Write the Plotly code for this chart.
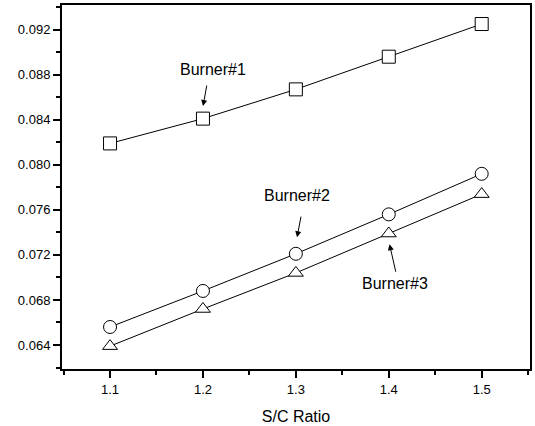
import plotly.graph_objects as go

sc_ratio = [1.1, 1.2, 1.3, 1.4, 1.5]
burner1 = [0.0819, 0.0841, 0.0867, 0.0896, 0.0925]
burner2 = [0.0656, 0.0688, 0.0721, 0.0756, 0.0792]
burner3 = [0.0639, 0.0672, 0.0704, 0.0739, 0.0774]

x_ticks = [1.1, 1.2, 1.3, 1.4, 1.5]
y_ticks = [0.064, 0.068, 0.072, 0.076, 0.080, 0.084, 0.088, 0.092]

fig = go.Figure()
for vals, sym in [(burner1, "square"), (burner2, "circle"), (burner3, "triangle-up")]:
    fig.add_trace(go.Scatter(
        x=sc_ratio, y=vals, mode="lines+markers",
        line=dict(color="black", width=1),
        marker=dict(symbol=sym, size=13, color="white",
                    line=dict(color="black", width=1)),
        showlegend=False,
    ))

font = "Liberation Sans, Arial, sans-serif"
labels = [
    ("Burner#1", 1.2110, 0.08842, 1.2044, 0.08717, 1.2001, 0.08522),
    ("Burner#2", 1.3015, 0.07725, 1.3058, 0.07553, 1.3013, 0.07357),
    ("Burner#3", 1.4065, 0.06948, 1.4079, 0.07037, 1.4008, 0.07295),
]
for txt, tx, ty, ax, ay, hx, hy in labels:
    fig.add_annotation(x=tx, y=ty, text=txt, showarrow=False,
                       font=dict(family=font, size=16, color="black"))
    fig.add_annotation(x=hx, y=hy, ax=ax, ay=ay, axref="x", ayref="y", text="",
                       showarrow=True, arrowhead=2, arrowsize=1.2, arrowwidth=1,
                       arrowcolor="black")

fig.update_layout(
    width=535, height=426,
    margin=dict(l=62, r=3, t=4, b=57),
    paper_bgcolor="white", plot_bgcolor="white",
    font=dict(family=font, color="black", size=13),
)
fig.update_xaxes(
    range=[1.0483, 1.552], tickvals=x_ticks, ticktext=[f"{v:.1f}" for v in x_ticks],
    ticks="outside", ticklen=7, tickwidth=1.5, tickcolor="black",
    minor=dict(dtick=0.05, tick0=1.05, ticks="outside", ticklen=4, tickwidth=1.5, tickcolor="black"),
    showline=True, linewidth=2, linecolor="black", mirror=True,
    showgrid=False, zeroline=False,
    title=dict(text="S/C Ratio", font=dict(size=16), standoff=15),
    ticklabelstandoff=0,
)
fig.update_yaxes(
    range=[0.06187, 0.09419], tickvals=y_ticks, ticktext=[f"{v:.3f}" for v in y_ticks],
    ticks="outside", ticklen=7, tickwidth=1.5, tickcolor="black",
    minor=dict(dtick=0.002, tick0=0.062, ticks="outside", ticklen=4, tickwidth=1.5, tickcolor="black"),
    showline=True, linewidth=2, linecolor="black", mirror=True,
    showgrid=False, zeroline=False,
    ticklabelstandoff=0,
)
fig.write_html(
    "out.html",
    config={"displayModeBar": False},
    post_script="document.body.style.margin='0px';document.body.style.overflow='hidden';window.scrollTo(0,0);",
)
